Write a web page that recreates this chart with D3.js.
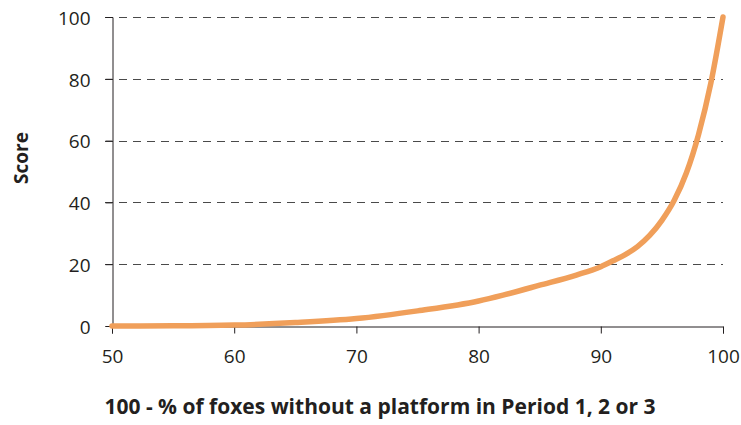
<!DOCTYPE html>
<html>
<head>
<meta charset="utf-8">
<script src="https://cdn.jsdelivr.net/npm/d3@7"></script>
<style>
  body { margin: 0; background: #fff; }
  svg text { font-family: "Open Sans", "Noto Sans", sans-serif; fill: #231f20; }
</style>
</head>
<body>
<div id="chart"></div>
<script>
const xValues = [50, 55, 60, 65, 70, 75, 80, 82, 85, 88, 90, 91, 92, 93, 94, 95, 96, 97, 98, 99, 100];
const scores  = [0, 0.05, 0.3, 1.1, 2.4, 4.9, 8.1, 10, 13.2, 16.5, 19.2, 21.1, 23.1, 25.7, 29.3, 34.2, 40.6, 49.5, 62, 78.5, 100];
const xTicks = [50, 60, 70, 80, 90, 100];
const yTicks = [0, 20, 40, 60, 80, 100];

const width = 741;
const height = 425;
const margin = { top: 17, right: 18, bottom: 99, left: 112 };

const data = xValues.map((x, i) => ({ x, y: scores[i] }));

const svg = d3.select("#chart").append("svg")
  .attr("width", width)
  .attr("height", height);

const x = d3.scaleLinear()
  .domain([50, 100])
  .range([margin.left, width - margin.right]);

const y = d3.scaleLinear()
  .domain([0, 100])
  .range([height - margin.bottom, margin.top]);

// dashed gridlines
svg.append("g")
  .selectAll("line")
  .data(yTicks.filter(d => d > 0))
  .join("line")
  .attr("x1", margin.left - 7)
  .attr("x2", x(100))
  .attr("y1", d => Math.round(y(d)) + 0.5)
  .attr("y2", d => Math.round(y(d)) + 0.5)
  .attr("stroke", "#4a4a4a")
  .attr("stroke-width", 1)
  .attr("stroke-dasharray", "8,6");

const yAxis = svg.append("g")
  .attr("transform", `translate(${margin.left + 0.5},0)`)
  .call(d3.axisLeft(y).tickValues(yTicks).tickSize(7).tickPadding(15));

const xAxis = svg.append("g")
  .attr("transform", `translate(0,${Math.round(y(0)) + 0.5})`)
  .call(d3.axisBottom(x).tickValues(xTicks).tickSize(7).tickPadding(16));

[yAxis, xAxis].forEach(g => {
  g.select(".domain").attr("stroke", "#231f20");
  g.selectAll(".tick line").attr("stroke", "#231f20");
  g.selectAll(".tick text")
    .style("font-size", "19px")
    .style("font-family", "'Open Sans', 'Noto Sans', sans-serif")
    .attr("fill", "#231f20");
});
yAxis.selectAll(".tick text").attr("dy", "0.38em");

const line = d3.line()
  .x(d => x(d.x))
  .y(d => y(d.y))
  .curve(d3.curveMonotoneX);

svg.append("path")
  .datum(data)
  .attr("fill", "none")
  .attr("stroke", "#f09f5a")
  .attr("stroke-width", 5.5)
  .attr("stroke-linecap", "round")
  .attr("d", line);

svg.append("text")
  .attr("transform", "translate(28,158) rotate(-90)")
  .attr("text-anchor", "middle")
  .style("font-size", "19px")
  .style("font-weight", "bold")
  .text("Score");

svg.append("text")
  .attr("x", 380)
  .attr("y", 414)
  .attr("text-anchor", "middle")
  .style("font-size", "21px")
  .style("font-weight", "bold")
  .text("100 - % of foxes without a platform in Period 1, 2 or 3");
</script>
</body>
</html>
